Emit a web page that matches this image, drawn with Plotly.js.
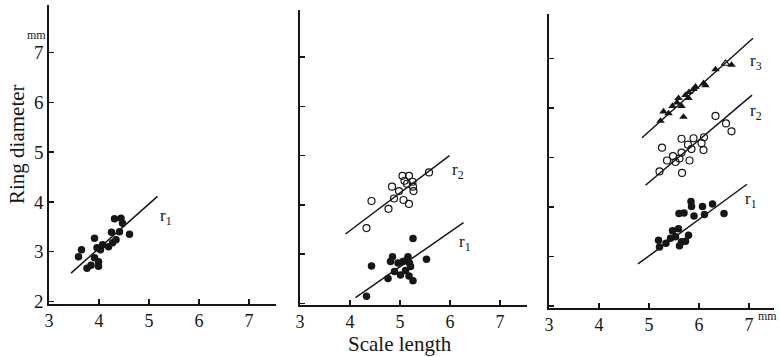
<!DOCTYPE html>
<html>
<head>
<meta charset="utf-8">
<script src="https://cdn.plot.ly/plotly-3.0.1.min.js"></script>
<style>html,body{margin:0;padding:0;background:#fff;}#chart{width:780px;height:357px;}</style>
</head>
<body>
<div id="chart"></div>
<script>
// ---- Data ----
const tickValsX = [3, 4, 5, 6, 7];
const tickValsY = [2, 3, 4, 5, 6, 7];

// Panel 1
const p1_r1_x = [3.59,3.65,3.76,3.84,3.91,3.96,3.91,3.99,3.99,4.03,4.07,4.19,4.25,4.27,4.31,4.44,4.47,4.41,4.61,4.34];
const p1_r1_y = [2.90,3.04,2.67,2.73,3.27,3.08,2.88,2.80,2.71,3.04,3.14,3.10,3.39,3.18,3.66,3.67,3.57,3.40,3.35,3.24];
const p1_r1_fit_x = [3.44, 5.17];
const p1_r1_fit_y = [2.57, 4.11];

// Panel 2
const p2_r2_x = [4.33,4.43,4.77,4.84,4.88,4.98,5.05,5.09,5.18,5.14,5.25,5.26,5.27,5.07,5.18,5.58];
const p2_r2_y = [3.53,4.08,3.92,4.37,4.13,4.28,4.59,4.49,4.59,4.43,4.47,4.37,4.28,4.10,4.02,4.66];
const p2_r2_fit_x = [3.91, 5.99];
const p2_r2_fit_y = [3.41, 5.00];
const p2_r1_x = [4.33,4.43,4.76,4.81,4.85,4.89,4.96,5.01,5.06,5.11,5.13,5.16,5.19,5.21,5.18,5.26,5.26,5.53];
const p2_r1_y = [2.15,2.76,2.51,2.85,2.95,2.65,2.82,2.58,2.85,2.67,2.88,2.95,2.82,2.75,2.56,2.46,3.32,2.90];
const p2_r1_fit_x = [4.11, 6.27];
const p2_r1_fit_y = [2.12, 3.64];

// Panel 3
const p3_r3_x = [5.23,5.29,5.39,5.47,5.56,5.59,5.69,5.65,5.73,5.79,5.80,5.89,5.93,6.09,6.13,6.33,6.65];
const p3_r3_y = [5.74,5.93,5.89,6.04,6.11,6.20,5.82,6.04,6.26,6.20,6.32,6.38,6.43,6.50,6.46,6.78,6.87];
const p3_r3_open_x = [6.53];
const p3_r3_open_y = [6.90];
const p3_r3_fit_x = [4.86, 7.08];
const p3_r3_fit_y = [5.40, 7.41];
const p3_r2_x = [5.26,5.21,5.36,5.48,5.53,5.61,5.65,5.65,5.66,5.78,5.81,5.85,5.89,6.05,6.10,6.09,6.33,6.54,6.65];
const p3_r2_y = [5.20,4.72,4.94,5.03,4.91,4.98,5.38,5.10,4.69,5.26,4.94,5.17,5.39,5.29,5.41,5.15,5.84,5.69,5.53];
const p3_r2_fit_x = [4.93, 7.06];
const p3_r2_fit_y = [4.44, 6.26];
const p3_r1_x = [5.19,5.21,5.34,5.43,5.47,5.53,5.59,5.61,5.65,5.73,5.79,5.60,5.70,5.84,5.85,5.90,6.07,6.11,6.27,6.50];
const p3_r1_y = [3.33,3.19,3.27,3.37,3.52,3.40,3.56,3.22,3.30,3.31,3.43,3.87,3.88,4.11,4.01,3.82,4.01,3.85,4.06,3.87];
const p3_r1_fit_x = [4.78, 6.96];
const p3_r1_fit_y = [2.85, 4.46];

// Line labels: [text, x, y, panel]
const lineLabels = [
  ['r<sub>1</sub>', 5.34, 3.70, 1],
  ['r<sub>2</sub>', 6.16, 4.68, 2],
  ['r<sub>1</sub>', 6.29, 3.22, 2],
  ['r<sub>3</sub>', 7.13, 6.94, 3],
  ['r<sub>2</sub>', 7.13, 5.93, 3],
  ['r<sub>1</sub>', 7.03, 4.14, 3]
];

// ---- Styling ----
const FONT = 'Liberation Serif, DejaVu Serif, serif';
const INK = '#161616';

function pts(x, y, xa, ya, symbol) {
  const open = symbol.indexOf('open') >= 0;
  return {x, y, xaxis: xa, yaxis: ya, type: 'scatter', mode: 'markers',
    marker: {symbol, size: open ? 7 : 7.5, color: INK, line: {color: INK, width: open ? 1.2 : 0}},
    hoverinfo: 'skip'};
}
function fit(x, y, xa, ya) {
  return {x, y, xaxis: xa, yaxis: ya, type: 'scatter', mode: 'lines',
    line: {color: INK, width: 1.5}, hoverinfo: 'skip'};
}

const data = [
  fit(p1_r1_fit_x, p1_r1_fit_y, 'x', 'y'),
  pts(p1_r1_x, p1_r1_y, 'x', 'y', 'circle'),
  fit(p2_r2_fit_x, p2_r2_fit_y, 'x2', 'y2'),
  pts(p2_r2_x, p2_r2_y, 'x2', 'y2', 'circle-open'),
  fit(p2_r1_fit_x, p2_r1_fit_y, 'x2', 'y2'),
  pts(p2_r1_x, p2_r1_y, 'x2', 'y2', 'circle'),
  fit(p3_r3_fit_x, p3_r3_fit_y, 'x3', 'y3'),
  pts(p3_r3_x, p3_r3_y, 'x3', 'y3', 'triangle-up'),
  pts(p3_r3_open_x, p3_r3_open_y, 'x3', 'y3', 'triangle-up-open'),
  fit(p3_r2_fit_x, p3_r2_fit_y, 'x3', 'y3'),
  pts(p3_r2_x, p3_r2_y, 'x3', 'y3', 'circle-open'),
  fit(p3_r1_fit_x, p3_r1_fit_y, 'x3', 'y3'),
  pts(p3_r1_x, p3_r1_y, 'x3', 'y3', 'circle')
];

const W = 780, H = 357;
function xAxis(pxL, pxR, range, anchor) {
  return {domain: [pxL / W, pxR / W], range, anchor, showline: true, linecolor: INK, linewidth: 1.6,
    ticks: 'inside', ticklen: 5, tickwidth: 1.5, tickcolor: INK, tickmode: 'array', tickvals: tickValsX,
    showgrid: false, zeroline: false, tickfont: {family: FONT, size: 18, color: INK}};
}
function yAxis(pyBottom, pyTop, range, anchor, labels) {
  return {domain: [(H - pyBottom) / H, (H - pyTop) / H], range, anchor, showline: true, linecolor: INK, linewidth: 1.6,
    ticks: 'inside', ticklen: 5, tickwidth: 1.5, tickcolor: INK, tickmode: 'array', tickvals: tickValsY,
    showticklabels: labels, showgrid: false, zeroline: false, tickfont: {family: FONT, size: 19, color: INK}};
}

const annotations = lineLabels.map(([t, x, y, p]) => ({
  text: t, x, y, xref: p === 1 ? 'x' : 'x' + p, yref: p === 1 ? 'y' : 'y' + p,
  xanchor: 'center', yanchor: 'middle',
  showarrow: false, font: {family: FONT, size: 17, color: INK}
}));
function paperText(text, px, py, size, angle) {
  return {text, xref: 'paper', yref: 'paper', x: px / W, y: (H - py) / H, xanchor: 'center', yanchor: 'middle',
    textangle: angle || 0, showarrow: false, font: {family: FONT, size, color: INK}};
}
annotations.push(
  paperText('mm', 36, 35, 12),
  paperText('mm', 767, 316, 12),
  paperText('Ring diameter', 17, 144, 21, -90),
  paperText('Scale length', 400, 344, 21)
);

const layout = {
  width: W, height: H, margin: {l: 0, r: 0, t: 0, b: 0},
  paper_bgcolor: '#fff', plot_bgcolor: '#fff', showlegend: false,
  xaxis: xAxis(49, 276, [3, 7.54], 'y'),
  yaxis: yAxis(304, 5.2, [1.95, 7.95], 'x', true),
  xaxis2: xAxis(300, 527, [3, 7.54], 'y2'),
  yaxis2: yAxis(305, 10.2, [1.97, 7.95], 'x2', false),
  xaxis3: xAxis(549, 774, [3, 7.5], 'y3'),
  yaxis3: yAxis(308, 14, [1.96, 7.90], 'x3', false),
  annotations
};

Plotly.newPlot('chart', data, layout, {staticPlot: true, displayModeBar: false});
</script>
</body>
</html>
